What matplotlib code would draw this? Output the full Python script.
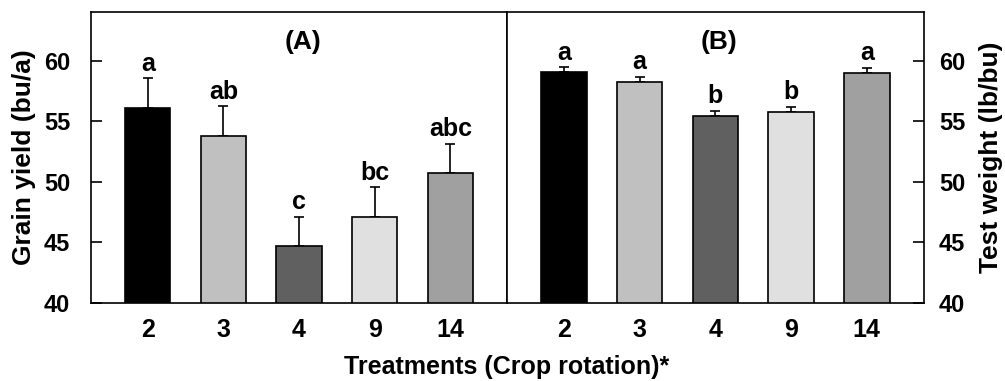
import matplotlib.pyplot as plt
import numpy as np

plt.rcParams['font.family'] = ['Liberation Sans', 'DejaVu Sans']
plt.rcParams['font.weight'] = 'bold'

# crop rotation treatments
treatments = ['2', '3', '4', '9', '14']
colors = ['#000000', '#c0c0c0', '#606060', '#e0e0e0', '#a0a0a0']

# (A) grain yield, bu/a
yield_mean = [56.1, 53.8, 44.7, 47.1, 50.7]
yield_se = [2.45, 2.45, 2.4, 2.45, 2.45]
yield_group = ['a', 'ab', 'c', 'bc', 'abc']

# (B) test weight, lb/bu
tw_mean = [59.05, 58.2, 55.4, 55.75, 59.0]
tw_se = [0.4, 0.45, 0.45, 0.45, 0.4]
tw_group = ['a', 'a', 'b', 'b', 'a']

fig = plt.figure(figsize=(10.05, 3.81), dpi=100)
ax1 = fig.add_axes([0.0905, 0.2047, 0.414, 0.7638])
ax2 = fig.add_axes([0.5045, 0.2047, 0.4145, 0.7638])

x = np.arange(len(treatments))


def draw_panel(ax, mean, se, groups, title):
    ax.bar(x, mean, width=0.6, color=colors, edgecolor='black', linewidth=1.2, zorder=2)
    ax.errorbar(x, mean, yerr=[np.zeros(len(se)), se], fmt='none', ecolor='black',
                elinewidth=1.2, capsize=3.5, capthick=1.2, zorder=1)
    for xi, m, s, g in zip(x, mean, se, groups):
        ax.text(xi, m + s + 0.2, g, ha='center', va='bottom', fontsize=18, fontweight='bold')
    ax.text(2.05, 61.5, title, ha='center', va='center', fontsize=19, fontweight='bold')
    ax.set_xlim(-0.75, 4.75)
    ax.set_ylim(40, 64)
    ax.set_yticks([40, 45, 50, 55, 60])
    ax.set_xticks(x)
    ax.set_xticklabels(treatments, fontsize=18, fontweight='bold')
    ax.tick_params(axis='x', length=0, pad=11)
    for sp in ax.spines.values():
        sp.set_linewidth(1.2)


draw_panel(ax1, yield_mean, yield_se, yield_group, '(A)')
draw_panel(ax2, tw_mean, tw_se, tw_group, '(B)')

ax1.tick_params(axis='y', direction='in', length=8, width=1.2, labelsize=17, pad=15)
ax1.set_ylabel('Grain yield (bu/a)', fontsize=19, fontweight='bold', labelpad=6)

ax2.yaxis.tick_right()
ax2.yaxis.set_label_position('right')
ax2.tick_params(axis='y', direction='in', length=8, width=1.2, labelsize=17, pad=11)
ax2.set_ylabel('Test weight (lb/bu)', fontsize=19, fontweight='bold', labelpad=10)

fig.text(0.5045, 0.036, 'Treatments (Crop rotation)*', ha='center', va='center',
         fontsize=18, fontweight='bold')

fig.savefig('out.png', dpi=100)
